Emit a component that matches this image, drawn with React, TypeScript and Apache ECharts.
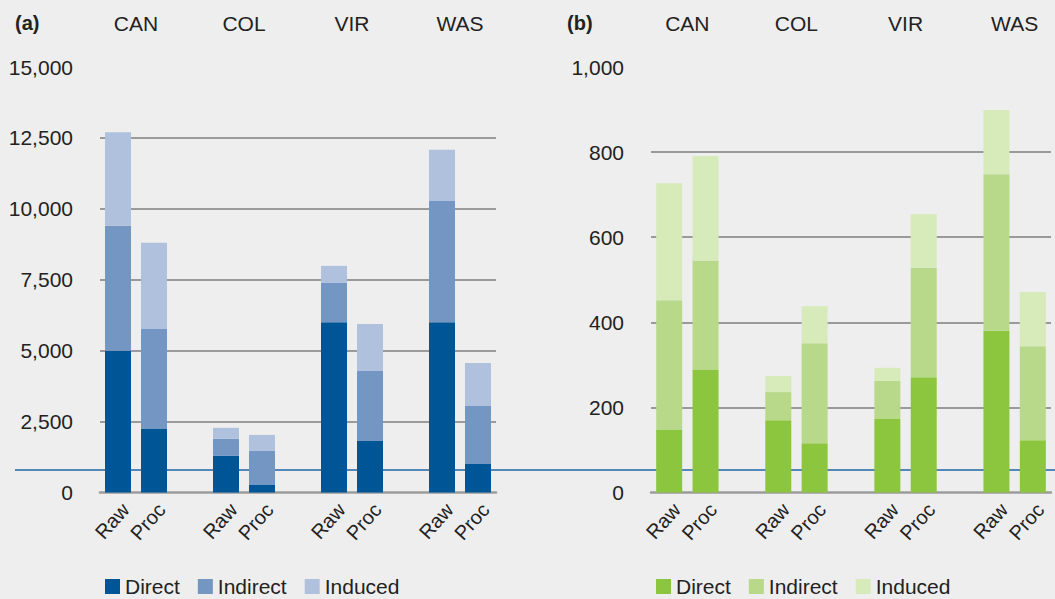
import React, { useEffect, useRef } from "react";
import * as echarts from "echarts";

const slots = ["Raw", "Proc", "", "Raw", "Proc", "", "Raw", "Proc", "", "Raw", "Proc"];
const regions = ["CAN", "COL", "VIR", "WAS"];
const seriesNames = ["Direct", "Indirect", "Induced"];

// Panel (a) stacked components, order: CAN Raw, CAN Proc, COL Raw, COL Proc, VIR Raw, VIR Proc, WAS Raw, WAS Proc
const aDirect = [5000, 2240, 1290, 265, 6000, 1815, 6000, 1005];
const aIndirect = [4400, 3525, 600, 1200, 1390, 2470, 4280, 2045];
const aInduced = [3300, 3035, 390, 565, 600, 1655, 1800, 1515];

// Panel (b)
const bDirect = [147, 288, 170, 116, 173, 271, 380, 123];
const bIndirect = [305, 257, 66, 235, 89, 257, 368, 221];
const bInduced = [275, 246, 38, 87, 31, 126, 151, 127];

const aTicks = { min: 0, max: 15000, interval: 2500 };
const bTicks = { min: 0, max: 1000, interval: 200 };

const blueColors = ["#005596", "#7396c3", "#b0c1dd"];
const greenColors = ["#8cc63f", "#b9d98a", "#d6eaba"];

function spread(vals: number[]): (number | string)[] {
  const out: (number | string)[] = [];
  let k = 0;
  for (let i = 0; i < slots.length; i++) {
    if (slots[i] === "") out.push("-");
    else out.push(vals[k++]);
  }
  return out;
}

const FONT = "Liberation Sans, Arial, sans-serif";
const TXT = "#222222";

export default function App() {
  const ref = useRef<HTMLDivElement>(null);
  useEffect(() => {
    if (!ref.current) return;
    const chart = echarts.init(ref.current, undefined, { renderer: "svg" });
    const gridTop = 67;
    const gridH = 425.5;
    const grids = [
      { left: 100, top: gridTop, width: 396, height: gridH },
      { left: 651, top: gridTop, width: 400, height: gridH },
    ];
    const bottomAxis = (gi: number) => ({
      type: "category",
      gridIndex: gi,
      data: slots,
      position: "bottom",
      axisLine: { show: true, lineStyle: { color: "#9c9c9c", width: 2.5 } },
      axisTick: { show: false },
      axisLabel: {
        interval: 0,
        rotate: 48,
        margin: 7,
        verticalAlign: "top",
        fontSize: 20,
        color: TXT,
        fontFamily: FONT,
      },
      splitLine: { show: false },
    });
    const topAxis = (gi: number) => ({
      type: "value",
      gridIndex: gi,
      position: "top",
      min: -0.5,
      max: 10.5,
      axisLine: { show: false },
      axisTick: { show: false },
      splitLine: { show: false },
      axisLabel: {
        customValues: [0.5, 3.5, 6.5, 9.5],
        formatter: (v: number) => regions[Math.round((v - 0.5) / 3)] ?? "",
        margin: 33,
        fontSize: 21,
        color: TXT,
        fontFamily: FONT,
      },
    });
    const yAxis = (gi: number, t: { min: number; max: number; interval: number }) => ({
      type: "value",
      gridIndex: gi,
      min: t.min,
      max: t.max,
      interval: t.interval,
      axisLine: { show: false },
      axisTick: { show: false },
      axisLabel: {
        margin: 27,
        fontSize: 21,
        color: TXT,
        fontFamily: FONT,
        formatter: (v: number) => v.toLocaleString("en-US"),
      },
      splitLine: {
        show: true,
        showMaxLine: false,
        showMinLine: false,
        lineStyle: { color: "#9a9a9a", width: 2 },
      },
    });

    const mk = (name: string, vals: number[], color: string, xi: number, yi: number, stack: string) => ({
      type: "bar",
      name,
      xAxisIndex: xi,
      yAxisIndex: yi,
      stack,
      barWidth: 26,
      data: spread(vals),
      itemStyle: { color },
      emphasis: { disabled: true },
    });

    const aVals = [aDirect, aIndirect, aInduced];
    const bVals = [bDirect, bIndirect, bInduced];

    const series: any[] = [];
    seriesNames.forEach((n, i) => series.push(mk(n, aVals[i], blueColors[i], 0, 0, "a")));
    seriesNames.forEach((n, i) => series.push(mk(n, bVals[i], greenColors[i], 2, 1, "b")));

    const legendBase = {
      top: 571,
      itemWidth: 15,
      itemHeight: 15,
      itemGap: 18,
      icon: "rect",
      selectedMode: false,
      textStyle: { fontSize: 21, color: TXT, fontFamily: FONT },
    };

    chart.setOption({
      animation: false,
      backgroundColor: "#eeeeee",
      grid: grids,
      xAxis: [bottomAxis(0), topAxis(0), bottomAxis(1), topAxis(1)],
      yAxis: [yAxis(0, aTicks), yAxis(1, bTicks)],
      legend: [
        {
          ...legendBase,
          left: 100,
          data: seriesNames.map((n, i) => ({ name: n, itemStyle: { color: blueColors[i] } })),
        },
        {
          ...legendBase,
          left: 651,
          data: seriesNames.map((n, i) => ({ name: n, itemStyle: { color: greenColors[i] } })),
        },
      ],
      graphic: [
        {
          type: "line",
          z: 0,
          shape: { x1: 15, y1: 470, x2: 1055, y2: 470 },
          style: { stroke: "#2063a3", lineWidth: 1.3 },
          silent: true,
        },
        {
          type: "text",
          x: 15,
          y: 23,
          style: {
            text: "(a)",
            fontSize: 20,
            fontWeight: "bold",
            fill: TXT,
            fontFamily: FONT,
            verticalAlign: "middle",
          },
        },
        {
          type: "text",
          x: 567,
          y: 23,
          style: {
            text: "(b)",
            fontSize: 20,
            fontWeight: "bold",
            fill: TXT,
            fontFamily: FONT,
            verticalAlign: "middle",
          },
        },
      ],
      series,
    });
    return () => chart.dispose();
  }, []);
  return (
    <div
      ref={ref}
      style={{ position: "fixed", left: 0, top: 0, width: 1055, height: 599 }}
    />
  );
}
